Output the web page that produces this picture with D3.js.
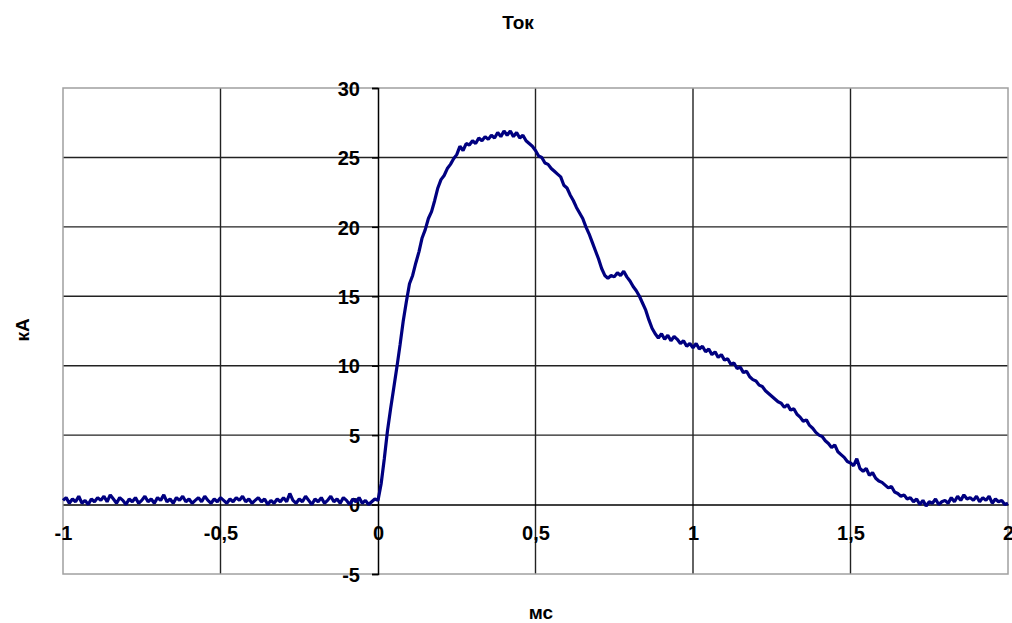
<!DOCTYPE html>
<meta charset="utf-8">
<style>
body { margin: 0; background: #fff; }
text { font-family: "Liberation Sans", Arial, sans-serif; font-weight: bold; fill: #000; }
.grid line { stroke: #222; stroke-width: 1.4px; }
</style>
<svg width="1012" height="623"></svg>
<script src="https://d3js.org/d3.v7.min.js"></script>
<script>

// samples every 0.01 ms, from -1 to 2 ms
var tStart = -1, tStep = 0.01;
var current = [
  0.3, 0.5, 0.1, 0.4, 0.2, 0.6, 0.1, 0.3, 0.0, 0.4,
  0.2, 0.5, 0.3, 0.6, 0.2, 0.7, 0.4, 0.1, 0.5, 0.3,
  0.0, 0.4, 0.2, 0.5, 0.1, 0.3, 0.6, 0.2, 0.4, 0.1,
  0.5, 0.3, 0.7, 0.2, 0.4, 0.1, 0.5, 0.3, 0.6, 0.2,
  0.4, 0.1, 0.3, 0.5, 0.2, 0.6, 0.3, 0.1, 0.4, 0.2,
  0.5, 0.3, 0.1, 0.4, 0.2, 0.5, 0.3, 0.6, 0.2, 0.4,
  0.1, 0.3, 0.5, 0.2, 0.4, 0.0, 0.3, 0.1, 0.4, 0.2,
  0.5, 0.2, 0.8, 0.3, 0.1, 0.4, 0.2, 0.6, 0.3, 0.0,
  0.4, 0.2, 0.5, 0.1, 0.3, 0.6, 0.2, 0.4, 0.1, 0.5,
  0.3, 0.0, 0.4, 0.2, 0.5, 0.1, 0.3, 0.0, 0.2, 0.4,
  0.3, 1.5, 3.3, 5.3, 6.9, 8.4, 9.9, 11.5, 13.2, 14.6,
  15.9, 16.5, 17.4, 18.2, 19.2, 19.8, 20.6, 21.1, 21.9, 22.8,
  23.4, 23.7, 24.2, 24.5, 24.9, 25.2, 25.8, 25.5, 26.0, 25.9,
  26.2, 26.0, 26.4, 26.2, 26.5, 26.3, 26.6, 26.4, 26.8, 26.5,
  26.9, 26.6, 26.9, 26.5, 26.8, 26.4, 26.6, 26.2, 26.0, 25.8,
  25.5, 25.1, 25.0, 24.6, 24.5, 24.2, 24.0, 23.8, 23.6, 23.0,
  22.8, 22.3, 21.9, 21.4, 21.0, 20.6, 20.0, 19.5, 18.9, 18.3,
  17.7, 17.0, 16.5, 16.3, 16.5, 16.4, 16.7, 16.5, 16.8, 16.4,
  16.1, 15.7, 15.4, 15.0, 14.5, 14.0, 13.3, 12.7, 12.3, 12.0,
  12.3, 11.9, 12.2, 11.8, 12.1, 11.9, 11.6, 11.8, 11.4, 11.6,
  11.3, 11.6, 11.2, 11.4, 11.0, 11.2, 10.8, 11.0, 10.6, 10.8,
  10.4, 10.5, 10.1, 10.2, 9.8, 9.9, 9.5, 9.6, 9.2, 9.0,
  8.9, 8.6, 8.5, 8.2, 8.0, 7.8, 7.6, 7.4, 7.3, 7.0,
  7.2, 6.8, 6.9, 6.5, 6.3, 6.0, 6.1, 5.7, 5.5, 5.2,
  5.0, 4.9, 4.6, 4.4, 4.1, 4.3, 3.8, 3.6, 3.4, 3.1,
  3.0, 2.8, 3.3, 2.6, 2.4, 2.6, 2.1, 2.3, 1.9, 1.7,
  1.6, 1.4, 1.2, 1.3, 0.9, 0.8, 0.6, 0.7, 0.4, 0.5,
  0.2, 0.4, 0.0, 0.3, -0.1, 0.2, 0.1, 0.4, 0.0, 0.2,
  0.3, 0.1, 0.5, 0.2, 0.6, 0.3, 0.7, 0.4, 0.5, 0.3,
  0.6, 0.2, 0.5, 0.3, 0.6, 0.1, 0.4, 0.2, 0.3, 0.0,
  0.1
];

var xTicks = [-1, -0.5, 0, 0.5, 1, 1.5, 2];
var yTicks = [-5, 0, 5, 10, 15, 20, 25, 30];
var title = "Ток", xTitle = "мс", yTitle = "кА";

var svg = d3.select("svg");

var plotLeft = 63, plotRight = 1008, plotTop = 88, plotBottom = 574;

var x = d3.scaleLinear().domain([-1, 2]).range([plotLeft, plotRight]);
var y = d3.scaleLinear().domain([-5, 30]).range([plotBottom, plotTop]);

var fmt = function(d) { return String(d).replace(".", ","); };

// grid
var grid = svg.append("g").attr("class", "grid");
grid.selectAll(".gx")
    .data(xTicks.filter(function(d) { return d > -1 && d < 2 && d != 0; }))
    .enter().append("line")
    .attr("x1", function(d) { return x(d); })
    .attr("x2", function(d) { return x(d); })
    .attr("y1", plotTop).attr("y2", plotBottom);
grid.selectAll(".gy")
    .data(yTicks.filter(function(d) { return d > -5 && d < 30 && d != 0; }))
    .enter().append("line")
    .attr("x1", plotLeft).attr("x2", plotRight)
    .attr("y1", function(d) { return y(d); })
    .attr("y2", function(d) { return y(d); });

// plot border
svg.append("rect")
   .attr("x", plotLeft).attr("y", plotTop)
   .attr("width", plotRight - plotLeft).attr("height", plotBottom - plotTop)
   .attr("fill", "none")
   .attr("stroke", "#a0a0a0")
   .attr("stroke-width", 1.5);

// axes crossing at zero
var yAxis = svg.append("g")
   .attr("transform", "translate(" + x(0) + ",0)")
   .call(d3.axisLeft(y).tickValues(yTicks).tickSize(6).tickPadding(12).tickFormat(fmt));
yAxis.select(".domain").attr("stroke", "#000").attr("stroke-width", 1.5);
yAxis.selectAll(".tick line").attr("stroke", "#000").attr("stroke-width", 1.5);
yAxis.selectAll("text").attr("font-size", 20).attr("font-family", null).attr("dy", "0.36em");

var xAxis = svg.append("g")
   .attr("transform", "translate(0," + y(0) + ")")
   .call(d3.axisBottom(x).tickValues(xTicks).tickSize(0).tickPadding(28).tickFormat(fmt));
xAxis.select(".domain").attr("stroke", "#000").attr("stroke-width", 1.5);
xAxis.selectAll("text").attr("font-size", 20).attr("font-family", null).attr("dy", "0.36em");

// series
var line = d3.line()
   .x(function(d, i) { return x(tStart + i * tStep); })
   .y(function(d) { return y(d); });

svg.append("path")
   .datum(current)
   .attr("d", line)
   .attr("fill", "none")
   .attr("stroke", "#000080")
   .attr("stroke-width", 3.2)
   .attr("stroke-linejoin", "bevel");

// titles
svg.append("text")
   .attr("x", 518).attr("y", 29)
   .attr("text-anchor", "middle")
   .attr("font-size", 19)
   .text(title);

svg.append("text")
   .attr("x", 541).attr("y", 619)
   .attr("text-anchor", "middle")
   .attr("font-size", 19)
   .text(xTitle);

svg.append("text")
   .attr("transform", "translate(29,330) rotate(-90)")
   .attr("text-anchor", "middle")
   .attr("font-size", 19)
   .text(yTitle);

</script>
